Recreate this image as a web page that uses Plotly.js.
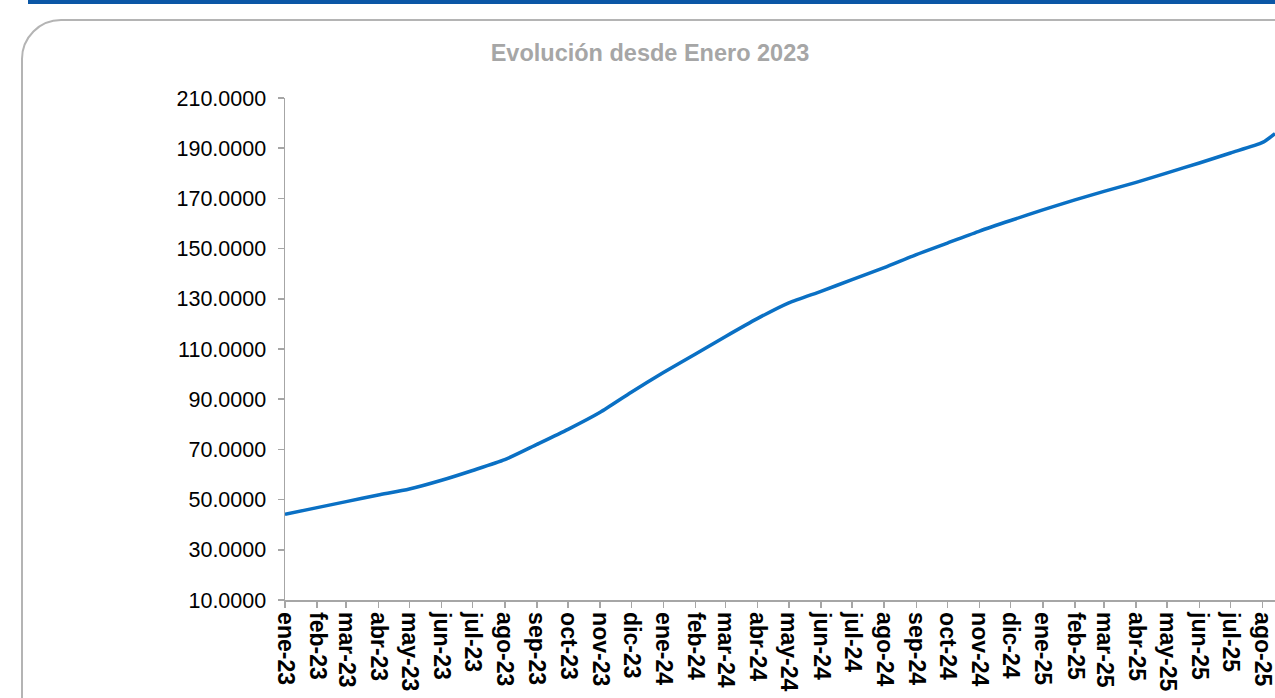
<!DOCTYPE html>
<html>
<head>
<meta charset="utf-8">
<script src="https://cdn.plot.ly/plotly-3.0.1.min.js"></script>
<style>
  html, body { margin: 0; padding: 0; width: 1275px; height: 698px; overflow: hidden; background: #ffffff; }
  #topbar { position: absolute; left: 28px; top: 0; width: 1300px; height: 4px; background: #0b57a6; }
  #frame { position: absolute; left: 21px; top: 19px; width: 1330px; height: 720px; border: 2px solid #b4b4b4; border-radius: 40px; box-sizing: border-box; }
  #chart { position: absolute; left: 0; top: 0; width: 1320px; height: 698px; }
</style>
</head>
<body>
<div id="topbar"></div>
<div id="frame"></div>
<div id="chart"></div>
<script>
// Series values (start of each month, plus last visible point)
const dates = [
  "2023-01-01","2023-02-01","2023-03-01","2023-04-01","2023-05-01","2023-06-01",
  "2023-07-01","2023-08-01","2023-09-01","2023-10-01","2023-11-01","2023-12-01",
  "2024-01-01","2024-02-01","2024-03-01","2024-04-01","2024-05-01","2024-06-01",
  "2024-07-01","2024-08-01","2024-09-01","2024-10-01","2024-11-01","2024-12-01",
  "2025-01-01","2025-02-01","2025-03-01","2025-04-01","2025-05-01","2025-06-01",
  "2025-07-01","2025-08-01","2025-08-13"
];
const values = [
  44.1, 46.8, 49.2, 51.8, 54.2, 57.7,
  61.6, 65.9, 72.0, 78.0, 84.8, 92.8,
  100.6, 108.0, 115.0, 122.2, 128.4, 133.0,
  137.6, 142.4, 147.6, 152.2, 157.0, 161.2,
  165.4, 169.4, 172.8, 176.4, 180.2, 184.1,
  188.1, 192.3, 195.8
];
// X tick positions and labels
const tickDates = [
  "2023-01-01","2023-02-01","2023-03-01","2023-04-01","2023-05-01","2023-06-01",
  "2023-07-01","2023-08-01","2023-09-01","2023-10-01","2023-11-01","2023-12-01",
  "2024-01-01","2024-02-01","2024-03-01","2024-04-01","2024-05-01","2024-06-01",
  "2024-07-01","2024-08-01","2024-09-01","2024-10-01","2024-11-01","2024-12-01",
  "2025-01-01","2025-02-01","2025-03-01","2025-04-01","2025-05-01","2025-06-01",
  "2025-07-01","2025-08-01"
];
const tickLabels = [
  "ene-23","feb-23","mar-23","abr-23","may-23","jun-23","jul-23","ago-23","sep-23","oct-23","nov-23","dic-23",
  "ene-24","feb-24","mar-24","abr-24","may-24","jun-24","jul-24","ago-24","sep-24","oct-24","nov-24","dic-24",
  "ene-25","feb-25","mar-25","abr-25","may-25","jun-25","jul-25","ago-25"
];
const chartTitle = "Evolución desde Enero 2023";

const font = "Liberation Sans, Arial, sans-serif";

const trace = {
  x: dates, y: values, type: "scatter", mode: "lines",
  line: { color: "#0a70c4", width: 3.5, shape: "spline", smoothing: 0.6 },
  hoverinfo: "skip"
};

const layout = {
  width: 1320, height: 698,
  margin: { l: 285, r: 30, t: 98, b: 98 },
  paper_bgcolor: "rgba(0,0,0,0)",
  plot_bgcolor: "rgba(0,0,0,0)",
  showlegend: false,
  title: {
    text: "<b>" + chartTitle + "</b>",
    font: { family: font, size: 23.5, color: "#a6a6a6" },
    x: 650 / 1320, xref: "container", xanchor: "center",
    y: 1 - 53 / 698, yref: "container", yanchor: "middle"
  },
  xaxis: {
    type: "date",
    range: ["2023-01-01", "2025-08-27 10:00"],
    tickmode: "array", tickvals: tickDates, ticktext: tickLabels.map(t => "<b>" + t + "</b>"),
    tickangle: 90,
    tickfont: { family: font, size: 23, color: "#000000" },
    ticks: "outside", ticklen: 6, tickcolor: "#a6a6a6", tickwidth: 1.5,
    showline: true, linecolor: "#a6a6a6", linewidth: 1.5,
    showgrid: false, zeroline: false
  },
  yaxis: {
    range: [10, 210], tick0: 10, dtick: 20, tickformat: ".4f",
    tickfont: { family: font, size: 21.5, color: "#000000" },
    ticks: "outside", ticklen: 6, tickcolor: "#a6a6a6", tickwidth: 1.5,
    ticklabelstandoff: 7,
    showline: true, linecolor: "#a6a6a6", linewidth: 1.5,
    showgrid: false, zeroline: false
  }
};

Plotly.newPlot("chart", [trace], layout, { displayModeBar: false, staticPlot: true });
</script>
</body>
</html>
